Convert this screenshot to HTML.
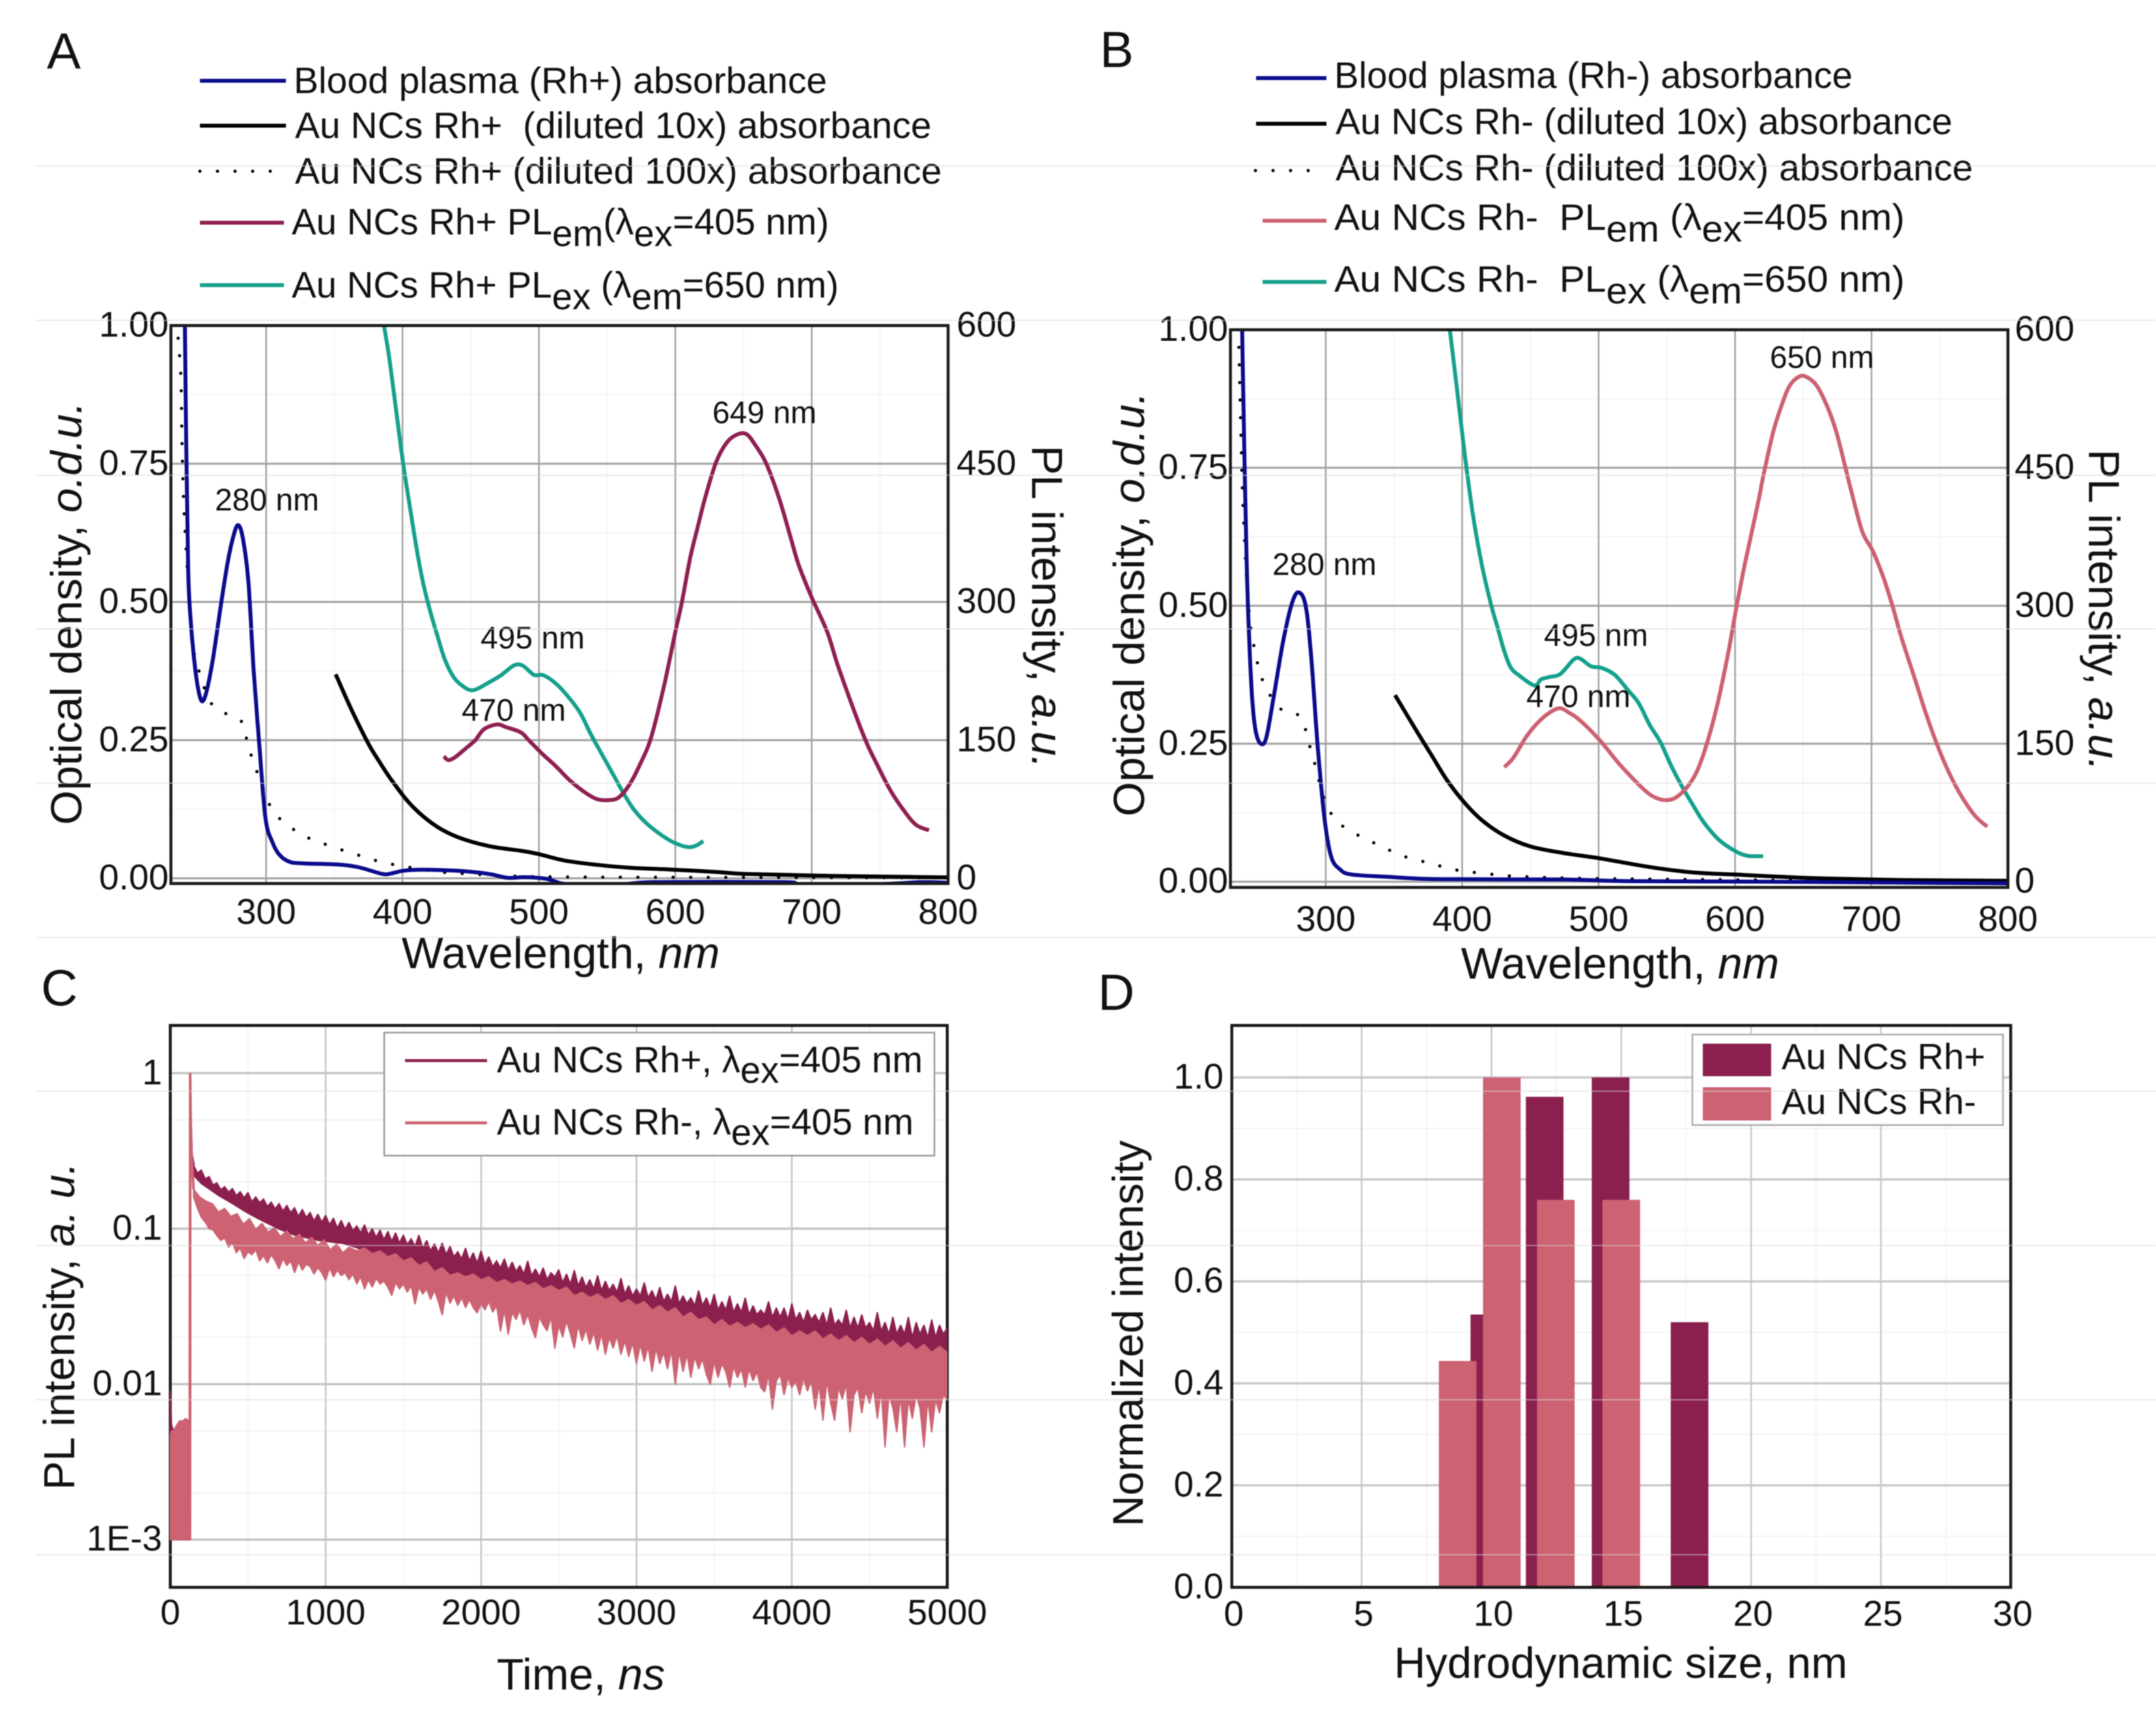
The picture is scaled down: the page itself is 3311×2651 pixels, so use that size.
<!DOCTYPE html>
<html lang="en">
<head>
<meta charset="utf-8">
<title>Au NCs optical properties</title>
<style>
html,body{margin:0;padding:0;background:#fff;}
svg{display:block;filter:blur(0.9px);}
text{font-family:"Liberation Sans",sans-serif;fill:#111;}
</style>
</head>
<body>
<svg id="fig" xmlns="http://www.w3.org/2000/svg" width="3311" height="2651" viewBox="0 0 3311 2651">
<rect x="0" y="0" width="3311" height="2651" fill="#fff"/>
<defs>
<clipPath id="clipA"><rect x="262" y="500" width="1194" height="857"/></clipPath>
<clipPath id="clipB"><rect x="1889" y="506" width="1195" height="857"/></clipPath>
<clipPath id="clipC"><rect x="258" y="1575" width="1197" height="863"/></clipPath>
</defs>

<text x="72" y="105" font-size="78">A</text>
<text x="1689" y="103" font-size="78">B</text>
<text x="63" y="1544" font-size="78">C</text>
<text x="1686" y="1551" font-size="78">D</text>

<g id="panelA"></g>
<g id="panelB"></g>
<g id="panelC"></g>
<g id="panelD"></g>

<g font-size="57">
  <line x1="307" y1="124" x2="439" y2="124" stroke="#0a0a8c" stroke-width="6"/>
  <text x="451" y="143">Blood plasma (Rh+) absorbance</text>
  <line x1="307" y1="193" x2="439" y2="193" stroke="#000" stroke-width="6"/>
  <text x="453" y="212" xml:space="preserve">Au NCs Rh+  (diluted 10x) absorbance</text>
  <line x1="307" y1="263" x2="432" y2="263" stroke="#000" stroke-width="5" stroke-linecap="round" stroke-dasharray="0 27"/>
  <text x="453" y="282">Au NCs Rh+ (diluted 100x) absorbance</text>
  <line x1="307" y1="342" x2="436" y2="342" stroke="#8e1f50" stroke-width="6"/>
  <text x="448" y="360" textLength="825" lengthAdjust="spacingAndGlyphs">Au NCs Rh+ PL<tspan dy="18">em</tspan><tspan dy="-18">(λ</tspan><tspan dy="18">ex</tspan><tspan dy="-18">=405 nm)</tspan></text>
  <line x1="307" y1="438" x2="436" y2="438" stroke="#14a08c" stroke-width="6"/>
  <text x="448" y="457" textLength="840" lengthAdjust="spacingAndGlyphs">Au NCs Rh+ PL<tspan dy="18">ex</tspan><tspan dy="-18"> (λ</tspan><tspan dy="18">em</tspan><tspan dy="-18">=650 nm)</tspan></text>
</g>

<g font-size="57">
  <line x1="1929" y1="120" x2="2037" y2="120" stroke="#0a0a8c" stroke-width="6"/>
  <text x="2049" y="135" textLength="796" lengthAdjust="spacingAndGlyphs">Blood plasma (Rh-) absorbance</text>
  <line x1="1929" y1="190" x2="2037" y2="190" stroke="#000" stroke-width="6"/>
  <text x="2051" y="206">Au NCs Rh- (diluted 10x) absorbance</text>
  <line x1="1928" y1="262" x2="2026" y2="262" stroke="#000" stroke-width="5" stroke-linecap="round" stroke-dasharray="0 27"/>
  <text x="2051" y="277">Au NCs Rh- (diluted 100x) absorbance</text>
  <line x1="1939" y1="339" x2="2037" y2="339" stroke="#cc6070" stroke-width="6"/>
  <text x="2049" y="353" xml:space="preserve" textLength="876" lengthAdjust="spacingAndGlyphs">Au NCs Rh-  PL<tspan dy="18">em</tspan><tspan dy="-18"> (λ</tspan><tspan dy="18">ex</tspan><tspan dy="-18">=405 nm)</tspan></text>
  <line x1="1939" y1="433" x2="2037" y2="433" stroke="#14a08c" stroke-width="6"/>
  <text x="2049" y="448" xml:space="preserve" textLength="876" lengthAdjust="spacingAndGlyphs">Au NCs Rh-  PL<tspan dy="18">ex</tspan><tspan dy="-18"> (λ</tspan><tspan dy="18">em</tspan><tspan dy="-18">=650 nm)</tspan></text>
</g>

<g font-size="48">
  <text x="1174" y="650" text-anchor="middle">649 nm</text>
  <text x="410" y="784" text-anchor="middle">280 nm</text>
  <text x="818" y="996" text-anchor="middle">495 nm</text>
  <text x="789" y="1107" text-anchor="middle">470 nm</text>
</g>
<g font-size="48">
  <text x="2798" y="565" text-anchor="middle">650 nm</text>
  <text x="2034" y="883" text-anchor="middle">280 nm</text>
  <text x="2451" y="992" text-anchor="middle">495 nm</text>
  <text x="2424" y="1086" text-anchor="middle">470 nm</text>
</g>

<g>
  <text x="861" y="1487" font-size="68" text-anchor="middle">Wavelength, <tspan font-style="italic">nm</tspan></text>
  <text transform="translate(125,942) rotate(-90)" font-size="67" text-anchor="middle" textLength="650" lengthAdjust="spacingAndGlyphs">Optical density, <tspan font-style="italic">o.d.u.</tspan></text>
  <text transform="translate(1585,932) rotate(90)" font-size="67" text-anchor="middle" textLength="496" lengthAdjust="spacingAndGlyphs">PL intensity, <tspan font-style="italic">a.u.</tspan></text>
  <text x="2488" y="1503" font-size="68" text-anchor="middle">Wavelength, <tspan font-style="italic">nm</tspan></text>
  <text transform="translate(1757,928) rotate(-90)" font-size="67" text-anchor="middle" textLength="652" lengthAdjust="spacingAndGlyphs">Optical density, <tspan font-style="italic">o.d.u.</tspan></text>
  <text transform="translate(3208,937) rotate(90)" font-size="67" text-anchor="middle" textLength="494" lengthAdjust="spacingAndGlyphs">PL intensity, <tspan font-style="italic">a.u.</tspan></text>
  <text x="892" y="2595" font-size="68" text-anchor="middle">Time, <tspan font-style="italic">ns</tspan></text>
  <text transform="translate(114,2037) rotate(-90)" font-size="67" text-anchor="middle" textLength="503" lengthAdjust="spacingAndGlyphs">PL intensity, <tspan font-style="italic">a. u.</tspan></text>
  <text x="2489" y="2577" font-size="67" text-anchor="middle">Hydrodynamic size, nm</text>
  <text transform="translate(1755,2048) rotate(-90)" font-size="66" text-anchor="middle" textLength="593" lengthAdjust="spacingAndGlyphs">Normalized intensity</text>
</g>

<g id="overlays"></g>
</svg>

<script>
/* shared helpers */
var svgNS = 'http://www.w3.org/2000/svg';
function mk(parent, tag, name, props) {
  var el = document.createElementNS(svgNS, tag);
  
  
  for (var k in props) { el.setAttribute(k, props[k]); }
  parent.appendChild(el);
  return el;
}
function linear(d0, d1, r0, r1) {
  return function (v) { return r0 + (v - d0) / (d1 - d0) * (r1 - r0); };
}
function smoothPath(xs, ys, fx, fy) {
  var p = xs.map(function (x, i) { return [fx(x), fy(ys[i])]; });
  var d = 'M' + p[0][0].toFixed(1) + ' ' + p[0][1].toFixed(1);
  for (var i = 0; i < p.length - 1; i++) {
    var a = p[Math.max(i - 1, 0)], b = p[i], c = p[i + 1], e = p[Math.min(i + 2, p.length - 1)];
    d += 'C' + (b[0] + (c[0] - a[0]) / 6).toFixed(1) + ' ' + (b[1] + (c[1] - a[1]) / 6).toFixed(1) + ' '
      + (c[0] - (e[0] - b[0]) / 6).toFixed(1) + ' ' + (c[1] - (e[1] - b[1]) / 6).toFixed(1) + ' '
      + c[0].toFixed(1) + ' ' + c[1].toFixed(1);
  }
  return d;
}
function label(parent, name, x, y, txt, anchor, size) {
  var t = mk(parent, 'text', name, { x: x, y: y, 'text-anchor': anchor, 'font-size': size });
  t.textContent = txt;
  return t;
}
function spectraPanel(g, box, clipId, xTicks, xMinor, odTicks, odLabels, odMinor, plLabels, fx, fod, series) {
  xMinor.forEach(function (v) {
    mk(g, 'line', 'x-minor-grid', { x1: fx(v), x2: fx(v), y1: box.top, y2: box.bottom, stroke: '#f4f4f4', 'stroke-width': 2 });
  });
  odMinor.forEach(function (v) {
    mk(g, 'line', 'y-minor-grid', { x1: box.left, x2: box.right, y1: fod(v), y2: fod(v), stroke: '#f4f4f4', 'stroke-width': 2 });
  });
  xTicks.forEach(function (v) {
    mk(g, 'line', 'x-grid', { x1: fx(v), x2: fx(v), y1: box.top, y2: box.bottom, stroke: '#a0a0a0', 'stroke-width': 2.5 });
    label(g, 'x-tick-label', fx(v), box.xLabelY, String(v), 'middle', 55);
  });
  odTicks.forEach(function (v, i) {
    mk(g, 'line', 'y-grid', { x1: box.left, x2: box.right, y1: fod(v), y2: fod(v), stroke: '#a0a0a0', 'stroke-width': 3 });
    label(g, 'y-tick-label', box.leftLabelX, fod(v) + 17, odLabels[i], 'end', 55);
    label(g, 'y2-tick-label', box.rightLabelX, fod(v) + 17, plLabels[i], 'start', 55);
  });
  var plot = mk(g, 'g', 'plot-area', { 'clip-path': 'url(#' + clipId + ')' });
  series.forEach(function (s) {
    mk(plot, 'path', s.name, {
      d: smoothPath(s.x, s.y, fx, s.fy), fill: 'none', stroke: s.color, 'stroke-width': s.width,
      'stroke-linecap': s.dash ? 'round' : 'butt', 'stroke-linejoin': 'round', 'stroke-dasharray': s.dash || 'none'
    });
  });
  mk(g, 'rect', 'plot-frame', { x: box.left, y: box.top, width: box.right - box.left, height: box.bottom - box.top, fill: 'none', stroke: '#1a1a1a', 'stroke-width': 4.5 });
}
</script>

<script>
/* Panel A data */
var wlTicks = [300, 400, 500, 600, 700, 800];
var wlMinor = [350, 450, 550, 650, 750];
var odTicks = [0, 0.25, 0.5, 0.75, 1];
var odTickLabels = ['0.00', '0.25', '0.50', '0.75', '1.00'];
var odMinorTicks = [0.125, 0.375, 0.625, 0.875];
var plTickLabels = ['0', '150', '300', '450', '600'];

var plasmaAx = [240.4,241.4,242.9,244.4,246.5,249,252,254.5,257.6,261.6,266.7,271.7,275.8,279.3,282.8,286.9,290.9,295,299.5,304.5,309.6,317,327,352.5,367.7,385,391.4,400.9,415.2,439,455,466,477.2,490,506,521.7,560,585,680,690,745,780,800];
var plasmaAy = [1.0,0.79,0.555,0.477,0.414,0.36,0.324,0.324,0.352,0.406,0.492,0.57,0.617,0.639,0.617,0.539,0.375,0.242,0.109,0.066,0.043,0.03,0.027,0.025,0.02,0.008,0.0086,0.0138,0.0157,0.0138,0.0106,0.0067,0.0008,0.002,-0.0012,-0.011,-0.011,-0.007,-0.007,-0.011,-0.011,-0.007,-0.008];
var dil100Ax = [235.5,237.5,238.3,239.3,240.3,242.3,243.8,246.8,250.8,258.8,268.9,281.5,285.5,289.5,294,299,304.2,312.7,326.9,338.5,351,363.7,376.3,389,402.5,425.3,448,470.8,498.5,559,800];
var dil100Ay = [0.977,0.906,0.789,0.695,0.641,0.555,0.492,0.414,0.375,0.32,0.3,0.285,0.254,0.219,0.188,0.156,0.125,0.102,0.078,0.066,0.055,0.045,0.035,0.027,0.021,0.012,0.008,0.005,0.003,0.002,0.001];
var dil10Ax = [351,362.6,375,383,391.3,404,416.8,429.5,443.8,464.5,486.8,499.6,518.7,542.5,566.4,598.2,630,650.5,701,799.5];
var dil10Ay = [0.369,0.305,0.2435,0.211,0.18,0.139,0.1087,0.0872,0.0715,0.0577,0.0498,0.0439,0.0322,0.0244,0.0192,0.0157,0.0114,0.008,0.005,0.0016];
var exAx = [386.4,390.5,395.5,400.5,406.6,411,415.2,420,425.6,431.1,437.5,443.9,451.8,464.5,472.5,482,488.4,496.4,502.7,510.7,518.7,529.8,537.8,545.7,553.7,561.6,569.6,579.1,590.3,599.8,609.4,615.7,620.5];
var exAy = [600,562.5,506,450,392,352,320,291.4,263,237.2,218.4,209,204.2,213.6,220.7,231.3,230.6,220.7,220.7,213.6,201.9,180.7,157.1,135.9,114.7,93.5,74.7,59.4,46.4,38.2,33.9,35.8,40.5];
var emAx = [430.3,433.5,438.3,447,453.4,459.7,469.3,475.7,486.8,493.2,502.7,512.3,523.4,534.6,542.5,550.5,558.4,566.4,574.3,582.3,591.9,599.8,604.6,610.9,616.5,622,630,638,645.8,652.3,658.6,666.6,676.2,684.1,690.5,700,711.2,719.1,730.2,739.8,747.7,757.3,766.8,776.3,786];
var emAy = [132.4,128.4,131.2,141.8,150,161.8,167,164.2,158.3,148.9,134.8,121.8,105.3,92.4,86,84.8,87.6,101.8,124.2,153,209.9,266,298,347.8,381.6,413.7,452,473.5,482,482,470.4,450.4,412.1,372.4,340,304.9,268.1,231.4,185.4,148.6,124.1,96.5,75.1,58.2,52.1];

(function () {
  var g = document.getElementById('panelA');
  var box = { left: 262.5, right: 1456, top: 500, bottom: 1357, xLabelY: 1419, leftLabelX: 259, rightLabelX: 1469 };
  var fx = linear(300, 800, 408.7, 1456);
  var fod = linear(0, 1, 1349, 500);
  var fpl = linear(0, 600, 1349, 500);
  spectraPanel(g, box, 'clipA', wlTicks, wlMinor, odTicks, odTickLabels, odMinorTicks, plTickLabels, fx, fod, [
    { name: 'series-au-10x-a', x: dil10Ax, y: dil10Ay, fy: fod, color: '#000', width: 6 },
    { name: 'series-au-100x-a', x: dil100Ax, y: dil100Ay, fy: fod, color: '#000', width: 5, dash: '0 27' },
    { name: 'series-plasma-a', x: plasmaAx, y: plasmaAy, fy: fod, color: '#0a0a8c', width: 6 },
    { name: 'series-pl-ex-a', x: exAx, y: exAy, fy: fpl, color: '#14a08c', width: 6 },
    { name: 'series-pl-em-a', x: emAx, y: emAy, fy: fpl, color: '#8e1f50', width: 6 }
  ]);
})();
</script>

<script>
/* Panel B data */
var plasmaBx = [238.7,240.2,242.2,244.2,246.2,248.7,252.3,256.3,261.3,268.8,275.4,280.4,285.4,289.4,294,299,304,310.6,319,346.7,382,472,522.6,623,800];
var plasmaBy = [1.0,0.795,0.561,0.42,0.327,0.272,0.25,0.26,0.327,0.436,0.506,0.524,0.498,0.405,0.248,0.116,0.045,0.022,0.013,0.0086,0.0047,0.004,0.001,0,-0.003];
var dil100Bx = [236,237,238,239,241,242.5,245,247.5,253.5,266,281,286,289.5,293,296,300,307,316,328.6,341,353.7,366,378.8,393.8,419,446.6,521.8,800];
var dil100By = [1.0,0.898,0.796,0.703,0.593,0.53,0.46,0.425,0.366,0.315,0.3,0.268,0.233,0.205,0.174,0.143,0.112,0.095,0.078,0.064,0.049,0.04,0.032,0.022,0.014,0.009,0.005,0];
var dil10Bx = [350.8,366.8,378.3,389.4,402.1,414.9,430.8,449.9,473.7,500.8,537.4,569.2,601,617,663,723.6,800];
var dil10By = [0.338,0.272,0.226,0.182,0.142,0.1105,0.0836,0.0639,0.0521,0.0423,0.0265,0.0168,0.0128,0.0108,0.006,0.003,0.0016];
var exBx = [391,396,402,408,414.6,421.2,426,430.8,435.5,441.9,453,457.8,464.2,472.1,481.7,486.5,494.4,502.4,511.9,521.5,529.4,537.4,545.3,553.3,561.2,569.2,577.2,588.3,601,609,617,620.6];
var exBy = [599,538,463,397.5,343,301,276,250.7,233,224,213.3,220,222.5,226,241.5,242.4,234.2,232.3,224.7,208.2,194,170.5,151.6,125.6,103.3,83.2,64.3,45.4,32.5,28.2,27.7,27.7];
var emBx = [430.8,437.1,443.5,447.5,454.6,462.6,471.3,478.5,486.5,500.8,515.1,529.4,537.4,543.7,550.1,556.5,564.4,571.6,578.7,586.7,594.6,600.2,605.8,610.6,616.9,620.9,628,634.4,640,647.1,652.7,659.9,667.8,674.2,680.6,685.3,693.3,701.2,709.2,715.6,722,731.5,739.4,747.4,756.9,766.5,776,784.8];
var emBy = [124.5,133.9,149.3,158.7,171.6,182.3,188.6,183.5,175.2,153.9,128,105.6,95,90.2,88.6,91.4,102,118.6,147,190.5,245.6,292,335.4,368.8,412.2,442.3,489,519,539.1,549.2,548.5,539.1,515.8,489,452,424,380.5,358.8,328.7,298.6,265.2,221.8,185.1,151.7,118.3,91.6,71.5,59.8];

(function () {
  var g = document.getElementById('panelB');
  var box = { left: 1889.6, right: 3083.6, top: 506.5, bottom: 1363, xLabelY: 1430, leftLabelX: 1886, rightLabelX: 3094 };
  var fx = linear(300, 800, 2036, 3083.6);
  var fod = linear(0, 1, 1354.2, 506.5);
  var fpl = linear(0, 600, 1354.2, 506.5);
  spectraPanel(g, box, 'clipB', wlTicks, wlMinor, odTicks, odTickLabels, odMinorTicks, plTickLabels, fx, fod, [
    { name: 'series-au-10x-b', x: dil10Bx, y: dil10By, fy: fod, color: '#000', width: 6 },
    { name: 'series-au-100x-b', x: dil100Bx, y: dil100By, fy: fod, color: '#000', width: 5, dash: '0 27' },
    { name: 'series-plasma-b', x: plasmaBx, y: plasmaBy, fy: fod, color: '#0a0a8c', width: 6 },
    { name: 'series-pl-ex-b', x: exBx, y: exBy, fy: fpl, color: '#14a08c', width: 6 },
    { name: 'series-pl-em-b', x: emBx, y: emBy, fy: fpl, color: '#cc6070', width: 6 }
  ]);
})();
</script>

<script>
/* Panel C data: decay envelopes */
var timeTicks = [0, 1000, 2000, 3000, 4000, 5000];
var intensityTicks = [1, 0.1, 0.01, 0.001];
var intensityTickLabels = ['1', '0.1', '0.01', '1E-3'];
var minorDecades = [0.5, 0.2, 0.05, 0.02, 0.005, 0.002];
var fineTimes = [150,175,200,225,250,275,300,325,350,375,400,425,450,475,500,525,550,575,600,625,650,675,700,725,750,775,800,825,850,875,900,925,950,975,1000,1025,1050,1075,1100,1125,1150,1175,1200,1225,1250,1275,1300,1325,1350,1375,1400,1425,1450,1475,1500,1525,1550,1575,1600,1625,1650,1675,1700,1725,1750,1775,1800,1825,1850,1875,1900,1925,1950,1975,2000,2025,2050,2075,2100,2125,2150,2175,2200,2225,2250,2275,2300,2325,2350,2375,2400,2425,2450,2475,2500,2525,2550,2575,2600,2625,2650,2675,2700,2725,2750,2775,2800,2825,2850,2875,2900,2925,2950,2975,3000,3025,3050,3075,3100,3125,3150,3175,3200,3225,3250,3275,3300,3325,3350,3375,3400,3425,3450,3475,3500,3525,3550,3575,3600,3625,3650,3675,3700,3725,3750,3775,3800,3825,3850,3875,3900,3925,3950,3975,4000,4025,4050,4075,4100,4125,4150,4175,4200,4225,4250,4275,4300,4325,4350,4375,4400,4425,4450,4475,4500,4525,4550,4575,4600,4625,4650,4675,4700,4725,4750,4775,4800,4825,4850,4875,4900,4925,4950,4975,5000];
var plusTop = [.255,.228,.238,.209,.216,.191,.197,.178,.186,.172,.181,
.163,.173,.158,.171,.149,.160,.147,.155,.139,.148,
.134,.145,.130,.141,.127,.136,.120,.133,.118,.127,
.112,.124,.110,.122,.106,.117,.101,.113,.099,.110,
.097,.104,.094,.106,.091,.100,.088,.098,.085,.096,
.083,.094,.081,.091,.079,.086,.077,.091,.075,.084,
.072,.080,.070,.081,.068,.077,.066,.071,.064,.075,
.062,.070,.060,.072,.059,.066,.057,.062,.056,.064,
.054,.061,.053,.058,.051,.062,.050,.055,.049,.056,
.047,.052,.049,.0545,.045,.051,.044,.054,.043,.049,
.042,.047,.041,.050,.040,.046,.040,.044,.039,.048,
.038,.043,.037,.041,.037,.045,.036,.040,.035,.042,
.034,.038,.034,.043,.033,.037,.033,.036,.032,.040,
.032,.036,.031,.038,.030,.034,.030,.037,.029,.033,
.029,.036,.028,.032,.028,.030,.028,.034,.027,.031,
.027,.031,.026,.033,.026,.029,.025,.030,.026,.028,
.025,.029,.024,.031,.024,.026,.024,.030,.023,.027,
.023,.028,.023,.025,.022,.029,.022,.025,.021,.027,
.021,.024,.021,.027,.020,.025,.021,.024,.020,.026,
.020,.024,.021,.023];
var minusBottom = [.160,.135,.118,.110,.100,.098,.090,.084,.087,.076,.081,
.070,.075,.064,.071,.068,.073,.062,.067,.060,.068,
.062,.055,.064,.058,.062,.052,.061,.054,.059,.057,
.051,.056,.052,.0464,.056,.049,.054,.050,.052,.047,
.051,.044,.049,.0408,.047,.042,.048,.044,.046,.042,
.0371,.045,.041,.044,.039,.043,.0326,.042,.038,.041,
.035,.040,.034,.0278,.039,.033,.037,.032,.036,.031,
.035,.031,.0287,.033,.030,.034,.029,.032,.0218,.030,
.0208,.029,.026,.030,.024,.028,.023,.0198,.027,.024,
.022,.027,.0169,.024,.020,.0255,.021,.017,.024,.019,
.0225,.018,.0215,.0165,.021,.0155,.020,.017,.0205,.0155,
.019,.015,.0185,.0135,.018,.014,.0175,.012,.017,.0135,
.016,.0125,.0165,.0099,.016,.012,.0155,.011,.015,.0125,
.0145,.0115,.0099,.014,.011,.0135,.012,.0095,.013,.011,
.0125,.0095,.0125,.0105,.012,.0095,.0089,.0115,.00686,.0105,
.0115,.0085,.011,.0095,.0105,.0085,.011,.0090,.0105,.00686,
.0100,.00583,.0105,.0075,.00583,.0095,.0080,.0100,.0049,.0085,
.0095,.0065,.0090,.0075,.0095,.0060,.0090,.00391,.0085,.0070,
.0049,.0085,.00391,.0080,.0060,.0085,.0070,.00391,.0080,.0049,
.0080,.0065,.0085,.0079];
var plusBottomTimes = [150,200,314,400,475,550,635,715,795,950,1117,1500,2000,2500,3000,3500,4000,4500,5000];
var plusBottom = [.22,.195,.1626,.145,.13,.118,.107,.098,.0912,.084,.0802,.06,.045,.0365,.030,.024,.021,.018,.016];
var minusTopTimes = [150,190,230,270,310,350,390,430,470,510,550,590,630,670,710,750,790,830,870,910,950,990,1030,1070,1110,1150,1200,1250,1300,1350,1400,1450,1500,1550,1600,1650,1700,1750,1800,1850,1900,1950,2000,2050,2100,2150,2200,2250,2300,2350,2400,2450,2500,2550,2600,2650,2700,2750,2800,2850,2900,2950,3000,3050,3100,3150,3200,3250,3300,3350,3400,3450,3500,3550,3600,3650,3700,3750,3800,3850,3900,3950,4000,4050,4100,4150,4200,4250,4300,4350,4400,4450,4500,4550,4600,4650,4700,4750,4800,4850,4900,4950,5000];
var minusTop = [.179,.160,.150,.145,.128,.135,.120,.125,.107,.116,.099,.108,.095,.101,.089,.097,.086,.092,.081,.088,.078,.085,.073,.080,.070,.076,.072,.075,.069,.072,.066,.069,.062,.065,.058,.061,.053,.056,.050,.052,.049,.051,.047,.049,.045,.047,.044,.046,.043,.045,.041,.043,.040,.042,.037,.039,.036,.038,.035,.037,.033,.035,.032,.034,.030,.032,.029,.031,.027,.029,.026,.027,.024,.026,.0235,.025,.023,.0245,.0225,.024,.0215,.023,.0205,.022,.0205,.022,.0195,.021,.019,.0205,.0185,.020,.018,.0195,.0175,.019,.017,.0185,.0165,.018,.016,.0175,.016];
var preTimes = [0,3,8,20,40,60,80,100,120,128];
var preUpperPlus = [.0091,.0075,.0055,.0050,.0054,.0058,.0058,.0060,.0058,.0060];
var preUpperMinus = [.0048,.0048,.0050,.0050,.0054,.0058,.0058,.0060,.0058,.0060];
var preLower = [.001,.001,.001,.001,.001,.001,.001,.001,.001,.001];
var spikeTimes = [126,128,132,137,150];
var spikePlus = [.001,.30,.45,.30,.255];
var spikeMinus = [.001,1,.47,.30,.179];
var legendCLabels = [['Au NCs Rh+, λ', 'ex', '=405 nm'], ['Au NCs Rh-, λ', 'ex', '=405 nm']];

(function () {
  var g = document.getElementById('panelC');
  var L = 261.5, R = 1454.7, T = 1575, B = 2438;
  var fx = linear(0, 5000, L, R);
  var fy = function (v) { return 1648.3 + (0 - Math.log10(v)) * 238.8; };
  minorDecades.forEach(function (m) {
    mk(g, 'line', 'y-minor-grid', { x1: L, x2: R, y1: fy(m), y2: fy(m), stroke: '#f2f2f2', 'stroke-width': 2 });
  });
  timeTicks.forEach(function (v) {
    if (v > 0 && v < 5000) {
      mk(g, 'line', 'x-grid', { x1: fx(v), x2: fx(v), y1: T, y2: B, stroke: '#c4c4c4', 'stroke-width': 2.5 });
    }
    if (v < 5000) {
      mk(g, 'line', 'x-minor-grid', { x1: fx(v + 500), x2: fx(v + 500), y1: T, y2: B, stroke: '#f4f4f4', 'stroke-width': 2 });
    }
    label(g, 'x-tick-label', fx(v), 2495, String(v), 'middle', 55);
  });
  intensityTicks.forEach(function (v, i) {
    mk(g, 'line', 'y-grid', { x1: L, x2: R, y1: fy(v), y2: fy(v), stroke: '#c4c4c4', 'stroke-width': 3.5 });
    label(g, 'y-tick-label', 249, fy(v) + 17, intensityTickLabels[i], 'end', 55);
  });
  mk(g, 'rect', 'plot-frame', { x: L, y: T, width: R - L, height: B - T, fill: 'none', stroke: '#1a1a1a', 'stroke-width': 4.5 });
  function band(tTop, top, tBot, bot) {
    var d = '';
    tTop.forEach(function (t, i) { d += (i ? 'L' : 'M') + fx(t).toFixed(1) + ' ' + fy(top[i]).toFixed(1); });
    for (var i = tBot.length - 1; i >= 0; i--) { d += 'L' + fx(tBot[i]).toFixed(1) + ' ' + fy(bot[i]).toFixed(1); }
    return d + 'Z';
  }
  var plot = mk(g, 'g', 'plot-area', { 'clip-path': 'url(#clipC)' });
  var colPlus = '#8b1f4e', colMinus = '#cc6272';
  [[preTimes, preUpperPlus, preTimes, preLower, colPlus, 'pre-pulse-rh-plus'],
   [fineTimes, plusTop, plusBottomTimes, plusBottom, colPlus, 'decay-rh-plus'],
   [preTimes, preUpperMinus, preTimes, preLower, colMinus, 'pre-pulse-rh-minus'],
   [minusTopTimes, minusTop, fineTimes, minusBottom, colMinus, 'decay-rh-minus']].forEach(function (s) {
    mk(plot, 'path', s[5], { d: band(s[0], s[1], s[2], s[3]), fill: s[4], stroke: s[4], 'stroke-width': 2, 'stroke-linejoin': 'miter', 'stroke-miterlimit': 2 });
  });
  [[spikeTimes, spikePlus, colPlus, 'spike-rh-plus'], [spikeTimes, spikeMinus, colMinus, 'spike-rh-minus']].forEach(function (s) {
    var d = '';
    s[0].forEach(function (t, i) { d += (i ? 'L' : 'M') + fx(t).toFixed(1) + ' ' + fy(s[1][i]).toFixed(1); });
    mk(plot, 'path', s[3], { d: d, fill: 'none', stroke: s[2], 'stroke-width': 4 });
  });
  var lg = mk(g, 'g', 'legend', {});
  mk(lg, 'rect', 'legend-box', { x: 590, y: 1586, width: 845, height: 189, fill: '#fff', stroke: '#999', 'stroke-width': 2.5 });
  [colPlus, colMinus].forEach(function (c, i) {
    var y0 = 1629 + i * 95.6;
    mk(lg, 'line', 'legend-line', { x1: 622, x2: 748, y1: y0, y2: y0, stroke: c, 'stroke-width': 4.5 });
    var t = mk(lg, 'text', 'legend-label', { x: 763, y: y0 + 18, 'font-size': 56.3 });
    var a = document.createElementNS(svgNS, 'tspan');
    a.textContent = legendCLabels[i][0];
    t.appendChild(a);
    var b = document.createElementNS(svgNS, 'tspan');
    b.setAttribute('dy', '16');
    b.textContent = legendCLabels[i][1];
    t.appendChild(b);
    var e = document.createElementNS(svgNS, 'tspan');
    e.setAttribute('dy', '-16');
    e.textContent = legendCLabels[i][2];
    t.appendChild(e);
  });
})();
</script>

<script>
/* Panel D data */
var sizeTicks = [0, 5, 10, 15, 20, 25, 30];
var sizeMinor = [2.5, 7.5, 12.5, 17.5, 22.5, 27.5];
var normTicks = [0, 0.2, 0.4, 0.6, 0.8, 1.0];
var normMinor = [0.1, 0.3, 0.5, 0.7, 0.9];
var normTickLabels = ['0.0', '0.2', '0.4', '0.6', '0.8', '1.0'];
var rhPlusSizes = [9.92, 12.05, 14.59, 17.63];
var rhPlusValues = [0.535, 0.962, 1.0, 0.52];
var rhMinusSizes = [8.7, 10.4, 12.48, 15.0];
var rhMinusValues = [0.444, 1.0, 0.76, 0.76];
var barWidthNm = 1.45;

(function () {
  var g = document.getElementById('panelD');
  var L = 1891.7, R = 3087.9, T = 1575, B = 2438;
  var fx = linear(0, 30, L, R);
  var fy = linear(0, 1, 2438, 1654.9);
  normMinor.forEach(function (v) {
    mk(g, 'line', 'y-minor-grid', { x1: L, x2: R, y1: fy(v), y2: fy(v), stroke: '#f3f3f3', 'stroke-width': 2 });
  });
  sizeMinor.forEach(function (v) {
    mk(g, 'line', 'x-minor-grid', { x1: fx(v), x2: fx(v), y1: T, y2: B, stroke: '#f3f3f3', 'stroke-width': 2 });
  });
  sizeTicks.forEach(function (v) {
    if (v > 0 && v < 30) {
      mk(g, 'line', 'x-grid', { x1: fx(v), x2: fx(v), y1: T, y2: B, stroke: '#c8c8c8', 'stroke-width': 2.5 });
    }
    label(g, 'x-tick-label', fx(v) + 3, 2497, String(v), 'middle', 55);
  });
  normTicks.forEach(function (v, i) {
    if (v > 0) {
      mk(g, 'line', 'y-grid', { x1: L, x2: R, y1: fy(v), y2: fy(v), stroke: '#c8c8c8', 'stroke-width': 3.5 });
    }
    label(g, 'y-tick-label', 1879, fy(v) + 17, normTickLabels[i], 'end', 55);
  });
  var w = fx(barWidthNm) - fx(0);
  rhPlusSizes.forEach(function (s, i) {
    mk(g, 'rect', 'bar-rh-plus', { x: fx(s) - w / 2, y: fy(rhPlusValues[i]), width: w, height: fy(0) - fy(rhPlusValues[i]), fill: '#8b1f4e' });
  });
  rhMinusSizes.forEach(function (s, i) {
    mk(g, 'rect', 'bar-rh-minus', { x: fx(s) - w / 2, y: fy(rhMinusValues[i]), width: w, height: fy(0) - fy(rhMinusValues[i]), fill: '#cc6272' });
  });
  mk(g, 'rect', 'plot-frame', { x: L, y: T, width: R - L, height: B - T, fill: 'none', stroke: '#1a1a1a', 'stroke-width': 4.5 });
  var lg = mk(g, 'g', 'legend', {});
  mk(lg, 'rect', 'legend-box', { x: 2599, y: 1589, width: 477, height: 139, fill: '#fff', stroke: '#aaa', 'stroke-width': 2.5 });
  mk(lg, 'rect', 'legend-swatch-rh-plus', { x: 2615, y: 1603, width: 105, height: 50, fill: '#8b1f4e' });
  mk(lg, 'rect', 'legend-swatch-rh-minus', { x: 2615, y: 1670, width: 105, height: 51, fill: '#cc6272' });
  label(lg, 'legend-label-rh-plus', 2736, 1642, 'Au NCs Rh+', 'start', 56);
  label(lg, 'legend-label-rh-minus', 2736, 1711, 'Au NCs Rh-', 'start', 56);

  /* faint horizontal scan lines present across the page */
  var ov = document.getElementById('overlays');
  var faintRows = [255, 492, 730, 966, 1203, 1440, 1676, 1913, 2150, 2388];
  faintRows.forEach(function (y0) {
    mk(ov, 'line', 'faint-page-line', { x1: 55, x2: 3311, y1: y0, y2: y0, stroke: 'rgba(215,215,215,0.5)', 'stroke-width': 2 });
  });
})();
</script>
</body>
</html>
